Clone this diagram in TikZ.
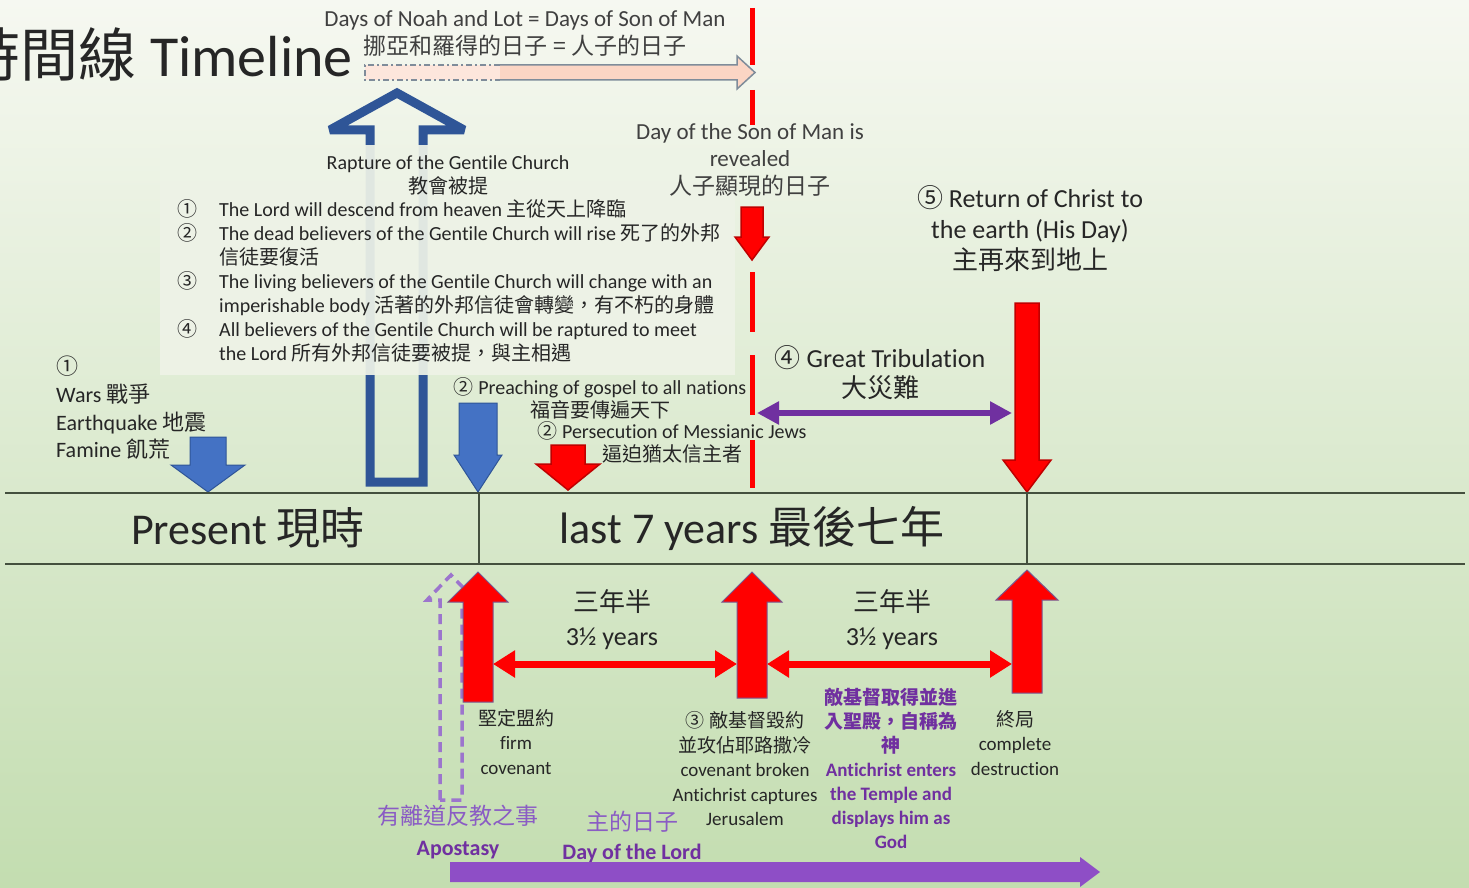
\documentclass[tikz,border=0pt]{standalone}
\usepackage{fontspec}
\setmainfont{Carlito}[Ligatures=NoCommon]
\newfontfamily\cjk{Noto Sans CJK TC}
\newcommand{\zh}[1]{{\cjk #1}}
\usetikzlibrary{arrows.meta}

\definecolor{textc}{HTML}{262626}
\definecolor{greyc}{HTML}{404040}
\definecolor{bgtop}{HTML}{F6F8F1}
\definecolor{bgbot}{HTML}{C3DDB0}
\definecolor{boxfill}{HTML}{EEF3E7}
\definecolor{bluefill}{HTML}{4472C4}
\definecolor{blueline}{HTML}{2F5597}
\definecolor{darkred}{HTML}{C00000}
\definecolor{purp}{HTML}{7030A0}
\definecolor{purpfill}{HTML}{8E4EC6}
\definecolor{purptxt}{HTML}{8A5CC4}
\definecolor{pinkfill}{HTML}{FBD5C4}
\definecolor{edgec}{HTML}{7F8C9A}
\definecolor{linec}{HTML}{44503E}

\tikzset{
  bluearr/.style={fill=bluefill, draw=blueline, line width=1pt},
  redown/.style={fill=red, draw=darkred, line width=1.5pt},
  redup/.style={fill=red, draw=purp!50!gray, line width=1pt},
  reddash/.style={draw=red, line width=5pt},
  redtwin/.style={draw=red, line width=7pt,
    {Triangle[length=22pt,width=26pt]}-{Triangle[length=22pt,width=26pt]}},
  purptwin/.style={draw=purp, line width=6pt,
    {Triangle[length=22pt,width=22pt]}-{Triangle[length=22pt,width=22pt]}},
  boxtxt/.style={font=\fontsize{20}{24}\selectfont, text height=14pt, text depth=4pt},
  smalltxt/.style={font=\fontsize{19}{24.5}\selectfont, align=center},
  bigtxt/.style={font=\fontsize{26}{31}\selectfont, align=center}
}

% block arrow: style, x, tail y, head base y, tip y, body half width, head half width
\newcommand{\blockarrow}[7]{%
  \draw[#1] ({#2-#6},#3) -- ({#2+#6},#3) -- ({#2+#6},#4) -- ({#2+#7},#4)
    -- (#2,#5) -- ({#2-#7},#4) -- ({#2-#6},#4) -- cycle;}

\begin{document}
\begin{tikzpicture}[x=1pt, y=-1pt, every node/.style={inner sep=0pt, text=textc}]
    \useasboundingbox (0,0) rectangle (1469,888);
    \clip (0,0) rectangle (1469,888);
    \shade[top color=bgtop, bottom color=bgbot] (0,0) rectangle (1469,888);

    % Title and days of Noah
    \node[anchor=east, font=\fontsize{58}{64}\selectfont] (title) at (353,54) {\zh{時間線} Timeline};
    \node[font=\fontsize{23}{28}\selectfont, text=greyc, align=center] (noah) at (525,33)
        {Days of Noah and Lot = Days of Son of Man\\\zh{挪亞和羅得的日子 = 人子的日子}};
    \fill[pinkfill!60] (365,65) rectangle (500,80);
    \fill[pinkfill] (500,65) -- (737,65) -- (737,56) -- (755,72.5) -- (737,89) -- (737,80) -- (500,80) -- cycle;
    \draw[edgec, line width=1.5pt] (500,65) -- (737,65) -- (737,56) -- (755,72.5) -- (737,89) -- (737,80) -- (500,80);
    \draw[edgec, line width=1.5pt, dash pattern=on 6pt off 3pt on 2pt off 3pt] (500,65) -- (365,65) -- (365,80) -- (500,80);

    % Red dashed line: day of the Son of Man
    \foreach \a/\b in {8/65, 90/125, 272/332, 355/415, 440/488}
        \draw[reddash] (752,\a) -- (752,\b);

    % Rapture arrow (hollow) and box
    \draw[blueline, line width=9pt, miter limit=2] (370,482) -- (370,130) -- (330,130) -- (397,93)
        -- (464,130) -- (423,130) -- (423,482) -- cycle;
    \fill[boxfill, fill opacity=0.93] (160,145) rectangle (735,375);
    \node[font=\fontsize{20}{24}\selectfont, align=center] (rapt) at (448,175)
        {Rapture of the Gentile Church\\\zh{教會被提}};
    \foreach \yy/\n in {211/①, 235/②, 283/③, 331/④}
        \node[boxtxt] (num\yy) at (187,\yy) {\zh{\n}};
    \foreach \yy/\line in {211/{The Lord will descend from heaven \zh{主從天上降臨}},
                           235/{The dead believers of the Gentile Church will rise \zh{死了的外邦}},
                           259/{\zh{信徒要復活}},
                           283/{The living believers of the Gentile Church will change with an},
                           307/{imperishable body \zh{活著的外邦信徒會轉變，有不朽的身體}},
                           331/{All believers of the Gentile Church will be raptured to meet},
                           355/{the Lord \zh{所有外邦信徒要被提，與主相遇}}}
        \node[boxtxt, anchor=west] (item\yy) at (219,\yy) {\line};

    % Events before the last seven years
    \node[anchor=west, align=left, font=\fontsize{22}{27.7}\selectfont] (calam) at (56,408)
        {\zh{①}\\Wars \zh{戰爭}\\Earthquake \zh{地震}\\Famine \zh{飢荒}};
    \blockarrow{bluearr}{208}{437}{465}{492}{18}{37}
    \node[font=\fontsize{20}{23}\selectfont, align=center] (preach) at (600,398)
        {\zh{②} Preaching of gospel to all nations\\\zh{福音要傳遍天下}};
    \blockarrow{bluearr}{478}{403}{455}{492}{19}{24}
    \node[font=\fontsize{20}{23}\selectfont, align=center] (persec) at (672,442)
        {\zh{②} Persecution of Messianic Jews\\\zh{逼迫猶太信主者}};
    \blockarrow{redown}{568}{445}{464}{490}{17}{32}

    % Son of Man revealed
    \node[font=\fontsize{23}{27.5}\selectfont, align=center, text=greyc] (reveal) at (750,160)
        {Day of the Son of Man is\\revealed\\\zh{人子顯現的日子}};
    \blockarrow{redown}{752}{207}{237}{260}{11}{17}

    % Return of Christ and great tribulation
    \node[bigtxt] (return) at (1030,229) {\zh{⑤} Return of Christ to\\the earth (His Day)\\\zh{主再來到地上}};
    \blockarrow{redown}{1027}{303}{460}{492}{12}{24}
    \node[bigtxt, font=\fontsize{26}{30}\selectfont] (tribul) at (880,373) {\zh{④} Great Tribulation\\\zh{大災難}};
    \coordinate (tribL) at (757,413);
    \coordinate (tribR) at (1012,413);
    \draw[purptwin] (tribL) -- (tribR);

    % Timeline band
    \draw[linec, line width=2pt] (5,493) -- (1465,493);
    \draw[linec, line width=2pt] (5,564) -- (1465,564);
    \draw[linec, line width=1.5pt] (479,493) -- (479,564);
    \draw[linec, line width=1.5pt] (1027,493) -- (1027,564);
    \node[font=\fontsize{44}{50}\selectfont] (present) at (248,528) {Present \zh{現時}};
    \node[font=\fontsize{44}{50}\selectfont] (last) at (752,528) {last 7 years \zh{最後七年}};

    % Apostasy (dashed) and covenant arrows
    \draw[purptxt!85, line width=3.5pt, dash pattern=on 10pt off 6pt] (440,800) -- (440,600) -- (427,600)
        -- (451,575) -- (475,600) -- (462,600) -- (462,800) -- cycle;
    \blockarrow{redup}{478}{702}{602}{572}{15}{30}
    \blockarrow{redup}{752}{698}{602}{572}{15}{30}
    \blockarrow{redup}{1027}{693}{600}{570}{15}{31}

    % Three and a half years
    \coordinate (h1a) at (493,664);
    \coordinate (h1b) at (737,664);
    \coordinate (h2a) at (767,664);
    \coordinate (h2b) at (1012,664);
    \draw[redtwin] (h1a) -- (h1b);
    \draw[redtwin] (h2a) -- (h2b);
    \node[bigtxt, font=\fontsize{26}{34}\selectfont] (half1) at (612,620) {\zh{三年半}\\3½ years};
    \node[bigtxt, font=\fontsize{26}{34}\selectfont] (half2) at (892,620) {\zh{三年半}\\3½ years};

    % Labels under the arrows
    \node[smalltxt] (firm) at (516,742) {\zh{堅定盟約}\\firm\\covenant};
    \node[smalltxt] (broken) at (745,769)
        {\zh{③ 敵基督毀約}\\\zh{並攻佔耶路撒冷}\\covenant broken\\Antichrist captures\\Jerusalem};
    \node[smalltxt, font=\bfseries\fontsize{19}{24}\selectfont, text=purp] (temple) at (891,768)
        {\zh{敵基督取得並進}\\\zh{入聖殿，自稱為}\\\zh{神}\\Antichrist enters\\the Temple and\\displays him as\\God};
    \node[smalltxt] (end) at (1015,743) {\zh{終局}\\complete\\destruction};
    \node[align=center, font=\fontsize{23}{31}\selectfont, text=purptxt] (apost) at (458,832)
        {\zh{有離道反教之事}\\\textcolor{purp}{\fontsize{22}{26}\selectfont\bfseries Apostasy}};
    \node[align=center, font=\fontsize{23}{29}\selectfont, text=purptxt] (lordday) at (632,837)
        {\zh{主的日子}\\\textcolor{purp}{\fontsize{22}{26}\selectfont\bfseries Day of the Lord}};

    % Day of the Lord arrow
    \fill[purpfill] (450,862) -- (1080,862) -- (1080,857) -- (1100,872) -- (1080,887) -- (1080,882) -- (450,882) -- cycle;
\end{tikzpicture}
\end{document}
